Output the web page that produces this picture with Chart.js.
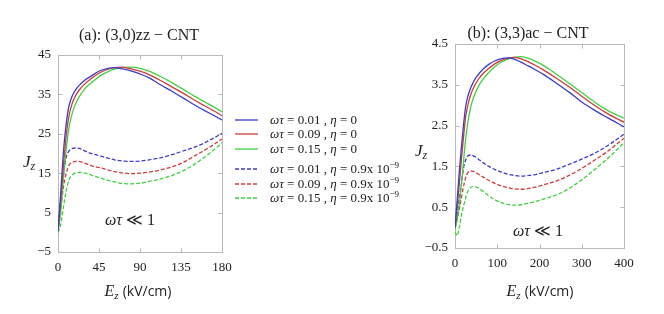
<!DOCTYPE html>
<html>
<head>
<meta charset="utf-8">
<script src="https://cdn.jsdelivr.net/npm/chart.js@4.4.1/dist/chart.umd.min.js"></script>
<style>
  body { margin: 0; background: #fff; }
  #lienzo { position: relative; width: 664px; height: 314px; overflow: hidden;
            font-family: "Liberation Serif", "DejaVu Serif", serif; color: #222; }
  #lienzo canvas { position: absolute; top: 0; }
  .txt { position: absolute; white-space: nowrap; transform: translate(-50%, -50%); line-height: 1; }
  .titulo { font-size: 16px; }
  .jz { font-size: 17px; font-style: italic; }
  .jz sub, .ez sub { font-size: 0.7em; vertical-align: -0.25em; }
  .ez { font-size: 16px; }
  .ez i { font-family: "Liberation Serif", serif; }
  .ez span { font-family: "Open Sans", sans-serif; font-size: 14px; }
  .nota { font-size: 16px; }
  .fila { position: absolute; left: 235px; height: 14px; display: flex; align-items: center;
          font-size: 13px; white-space: nowrap; transform: translateY(-50%); }
  .fila svg { margin-right: 12px; }
  .fila sup { font-size: 0.7em; vertical-align: 0.5em; line-height: 0; }
</style>
</head>
<body>
<div id="lienzo">
  <canvas id="grafA" width="240" height="314" style="left:0;width:240px;height:314px"></canvas>
  <canvas id="grafB" width="264" height="314" style="left:400px;width:264px;height:314px"></canvas>

  <div class="txt titulo" style="left:139px;top:35px">(a): (3,0)zz − CNT</div>
  <div class="txt titulo" style="left:528px;top:33px">(b): (3,3)ac − CNT</div>

  <div class="txt jz" style="left:29px;top:163px">J<sub>z</sub></div>
  <div class="txt jz" style="left:421px;top:152px">J<sub>z</sub></div>

  <div class="txt ez" style="left:138px;top:292px"><i>E<sub>z</sub></i> <span>(kV/cm)</span></div>
  <div class="txt ez" style="left:540px;top:292px"><i>E<sub>z</sub></i> <span>(kV/cm)</span></div>

  <div class="txt nota" style="left:130px;top:220px"><i>ωτ</i> ≪ 1</div>
  <div class="txt nota" style="left:538px;top:231px"><i>ωτ</i> ≪ 1</div>

  <div id="leyenda"></div>
</div>

<script>
// ---- datos ----

// (a) (3,0) zz-CNT, campo en kV/cm
const camposA = [0, 3, 6, 9, 12, 16, 20, 25, 30, 38, 46, 55, 62, 70, 80, 90, 100, 112, 125, 138, 150, 165, 180];
const jzA_001 = [0.3, 10, 20.5, 27.5, 32, 34.8, 36.4, 37.7, 38.7, 39.9, 41.0, 41.6, 41.8, 41.5, 41.0, 40.2, 39.2, 37.5, 35.8, 34.0, 32.3, 30.4, 28.5];
const jzA_009 = [0.3, 8, 17, 24.5, 29.5, 33, 35, 36.6, 37.8, 39.3, 40.5, 41.4, 41.8, 41.9, 41.5, 40.9, 40.0, 38.6, 36.9, 35.2, 33.5, 31.6, 29.6];
const jzA_015 = [0.0, 5.5, 14, 21, 26.5, 30.5, 33, 35, 36.6, 38.2, 39.7, 40.8, 41.4, 41.8, 41.9, 41.6, 40.9, 39.6, 38.0, 36.2, 34.5, 32.6, 30.6];
const jzA_001_eta = [0.5, 8, 14.5, 19, 20.6, 21.3, 21.4, 21.2, 20.6, 19.9, 19.4, 18.8, 18.4, 18.1, 18.0, 18.1, 18.4, 18.9, 19.7, 20.7, 21.6, 23.2, 25.1];
const jzA_009_eta = [0.3, 6, 11.5, 15, 17, 17.8, 18.0, 17.9, 17.5, 16.8, 16.4, 15.8, 15.4, 15.1, 14.9, 15.0, 15.3, 15.8, 16.6, 17.8, 19.4, 21.4, 23.7];
const jzA_015_eta = [-0.1, 2, 6.5, 10.5, 13.3, 14.6, 15.1, 15.2, 15.0, 14.4, 13.8, 13.2, 12.8, 12.4, 12.3, 12.5, 12.9, 13.5, 14.4, 15.7, 17.3, 19.8, 22.7];
const ticksXA = [0, 45, 90, 135, 180];
const ticksYA = [-5, 5, 15, 25, 35, 45];

// (b) (3,3) ac-CNT
const camposB = [0, 5, 10, 15, 20, 25, 30, 37, 45, 55, 65, 80, 95, 110, 125, 140, 155, 170, 190, 210, 240, 270, 300, 330, 360, 400];
const jzB_001 = [0.0, 0.65, 1.35, 1.95, 2.5, 2.95, 3.2, 3.42, 3.6, 3.75, 3.87, 4.0, 4.09, 4.14, 4.16, 4.13, 4.06, 3.98, 3.87, 3.75, 3.54, 3.32, 3.08, 2.88, 2.70, 2.47];
const jzB_009 = [0.0, 0.5, 1.05, 1.65, 2.2, 2.7, 2.98, 3.25, 3.45, 3.63, 3.76, 3.9, 4.02, 4.1, 4.15, 4.17, 4.14, 4.08, 3.98, 3.86, 3.66, 3.45, 3.22, 3.0, 2.8, 2.58];
const jzB_015 = [-0.05, 0.2, 0.55, 1.05, 1.6, 2.15, 2.55, 2.95, 3.22, 3.45, 3.62, 3.8, 3.95, 4.06, 4.13, 4.17, 4.19, 4.16, 4.08, 3.97, 3.76, 3.54, 3.31, 3.08, 2.88, 2.68];
const jzB_001_eta = [0.0, 0.3, 0.7, 1.05, 1.45, 1.65, 1.75, 1.78, 1.75, 1.68, 1.6, 1.5, 1.42, 1.36, 1.31, 1.28, 1.26, 1.27, 1.3, 1.35, 1.43, 1.55, 1.68, 1.82, 2.0, 2.29];
const jzB_009_eta = [0.0, 0.2, 0.45, 0.72, 1.0, 1.22, 1.34, 1.39, 1.37, 1.31, 1.25, 1.16, 1.08, 1.02, 0.98, 0.95, 0.94, 0.95, 0.99, 1.05, 1.14, 1.28, 1.45, 1.65, 1.86, 2.19];
const jzB_015_eta = [-0.1, -0.2, 0.0, 0.3, 0.52, 0.72, 0.88, 0.98, 1.01, 0.97, 0.9, 0.78, 0.68, 0.61, 0.57, 0.55, 0.56, 0.59, 0.64, 0.7, 0.8, 0.96, 1.17, 1.42, 1.68, 2.08];
const ticksXB = [0, 100, 200, 300, 400];
const ticksYB = [-0.5, 0.5, 1.5, 2.5, 3.5, 4.5];

// etiquetas de la leyenda (comun a las dos graficas)
const etiquetas = [
    'ωτ = 0.01 , η = 0',
    'ωτ = 0.09 , η = 0',
    'ωτ = 0.15 , η = 0',
    'ωτ = 0.01 , η = 0.9x 10^−9',
    'ωτ = 0.09 , η = 0.9x 10^−9',
    'ωτ = 0.15 , η = 0.9x 10^−9'
];

const colores = ['#3c3cc8', '#d03a3a', '#3fd23f'];
const guion = [4, 2];

// caja gris con ticks hacia adentro, estilo matlab
const cajaPlugin = {
    id: 'caja',
    beforeDatasetsDraw(chart) {
        const { ctx, chartArea: a, scales } = chart;
        const l = Math.round(a.left) + 0.5, r = Math.round(a.right) + 0.5;
        const t = Math.round(a.top) + 0.5, b = Math.round(a.bottom) + 0.5;
        ctx.save();
        ctx.strokeStyle = '#b8b8b8';
        ctx.lineWidth = 1;
        ctx.strokeRect(l, t, r - l, b - t);
        ctx.beginPath();
        scales.x.ticks.forEach(tk => {
            const px = Math.round(scales.x.getPixelForValue(tk.value)) + 0.5;
            ctx.moveTo(px, b); ctx.lineTo(px, b - 4);
            ctx.moveTo(px, t); ctx.lineTo(px, t + 4);
        });
        scales.y.ticks.forEach(tk => {
            const py = Math.round(scales.y.getPixelForValue(tk.value)) + 0.5;
            ctx.moveTo(l, py); ctx.lineTo(l + 4, py);
            ctx.moveTo(r, py); ctx.lineTo(r - 4, py);
        });
        ctx.stroke();
        ctx.restore();
    }
};

function crearGrafica(id, campos, series, ticksX, ticksY, caja) {
    const fuente = { family: 'Liberation Serif', size: 13 };

    const datasets = series.map((s, i) => ({
        label: etiquetas[i],
        data: campos.map((e, k) => ({ x: e, y: s[k] })),
        borderColor: colores[i % 3],
        borderDash: i >= 3 ? guion : [],
        borderWidth: 1.3,
        pointRadius: 0,
        cubicInterpolationMode: 'monotone',
        fill: false
    }));

    return new Chart(document.getElementById(id), {
        type: 'line',
        data: { datasets },
        options: {
            responsive: false,
            animation: false,
            layout: { padding: { left: 0, top: caja.top, right: caja.right, bottom: 0 } },
            plugins: { legend: { display: false }, tooltip: { enabled: false } },
            scales: {
                x: {
                    type: 'linear',
                    min: ticksX[0],
                    max: ticksX[ticksX.length - 1],
                    afterBuildTicks: s => { s.ticks = ticksX.map(v => ({ value: v })); },
                    afterFit: s => { s.height = caja.altoX; },
                    grid: { display: false, drawTicks: false },
                    border: { display: false },
                    ticks: { font: fuente, color: '#222', padding: 8, maxRotation: 0, autoSkip: false }
                },
                y: {
                    min: ticksY[0],
                    max: ticksY[ticksY.length - 1],
                    afterBuildTicks: s => { s.ticks = ticksY.map(v => ({ value: v })); },
                    afterFit: s => { s.width = caja.anchoY; },
                    grid: { display: false, drawTicks: false },
                    border: { display: false },
                    ticks: { font: fuente, color: '#222', padding: 7, autoSkip: false,
                             callback: v => (Number.isInteger(v) ? v : v.toFixed(1)).toString().replace('-', '−') }
                }
            }
        },
        plugins: [cajaPlugin]
    });
}

crearGrafica('grafA', camposA,
    [jzA_001, jzA_009, jzA_015, jzA_001_eta, jzA_009_eta, jzA_015_eta],
    ticksXA, ticksYA,
    { top: 55, right: 18, anchoY: 58, altoX: 62 });

crearGrafica('grafB', camposB,
    [jzB_001, jzB_009, jzB_015, jzB_001_eta, jzB_009_eta, jzB_015_eta],
    ticksXB, ticksYB,
    { top: 44, right: 40, anchoY: 55, altoX: 66 });

// leyenda en html, entre las dos graficas
const filasY = [120, 134, 149, 169, 184, 198];
const leyenda = document.getElementById('leyenda');
etiquetas.forEach((txt, i) => {
    const fila = document.createElement('div');
    fila.className = 'fila';
    fila.style.top = filasY[i] + 'px';
    const dash = i >= 3 ? guion.join(' ') : 'none';
    const html = txt
        .replace(/([ωτη])/g, '<i>$1</i>')
        .replace(/\^(\S+)/, '<sup>$1</sup>');
    fila.innerHTML =
        `<svg width="23" height="4"><line x1="0" y1="2" x2="23" y2="2" stroke="${colores[i % 3]}" stroke-width="1.3" stroke-dasharray="${dash}"/></svg>` +
        `<span>${html}</span>`;
    leyenda.appendChild(fila);
});
</script>
</body>
</html>
